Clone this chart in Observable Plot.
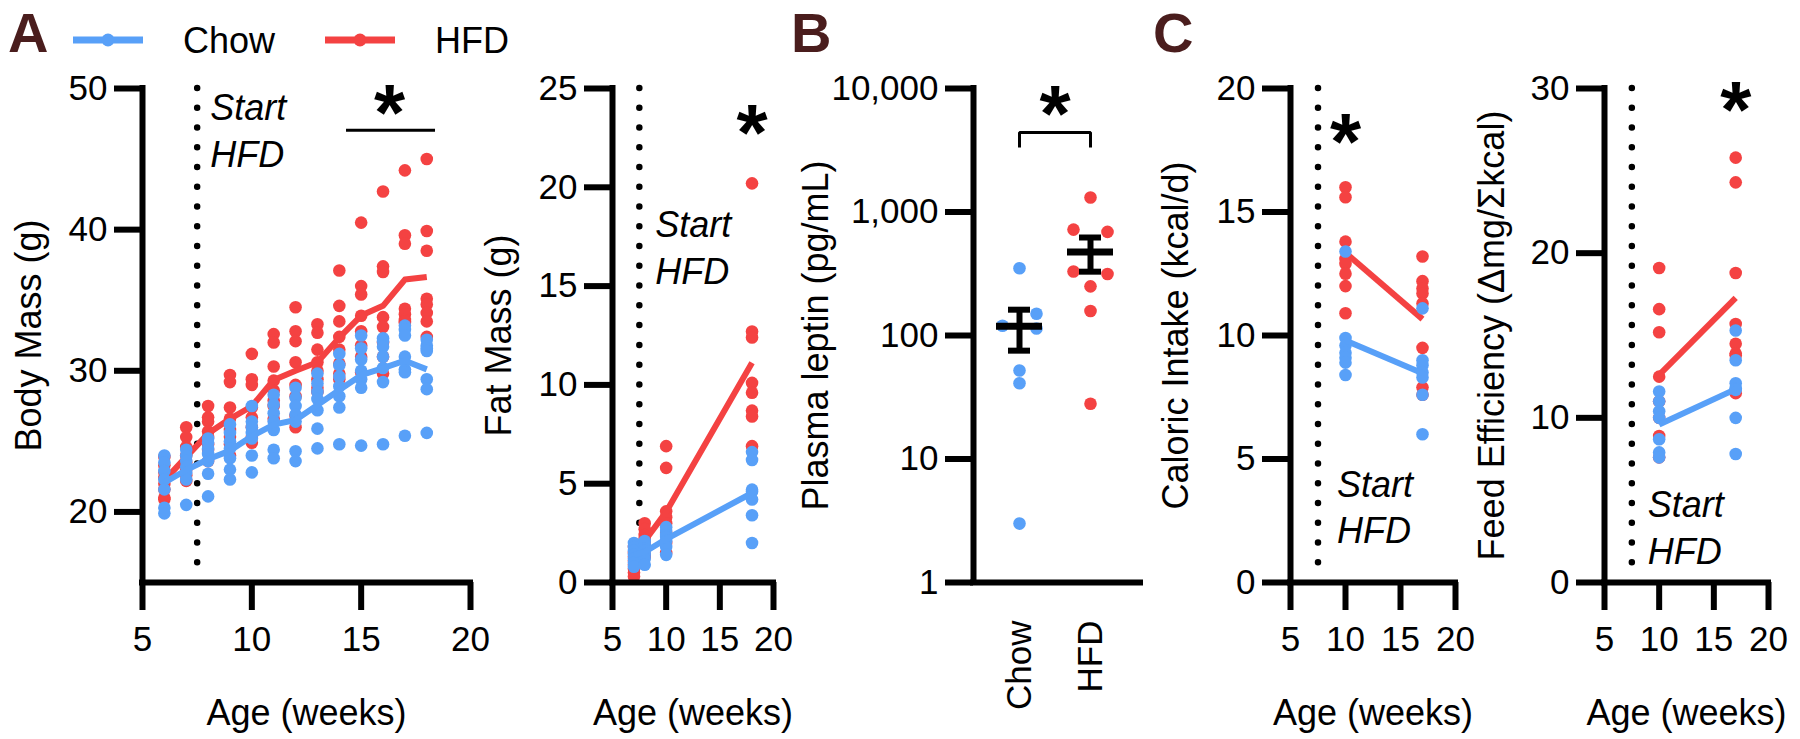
<!DOCTYPE html>
<html>
<head>
<meta charset="utf-8">
<script src="https://cdn.jsdelivr.net/npm/d3@7"></script>
<script src="https://cdn.jsdelivr.net/npm/@observablehq/plot@0.6"></script>
<style>
  body { margin: 0; background: #fff; }
  #fig { position: relative; width: 1800px; height: 739px; overflow: hidden; background: #fff; }
  #fig svg { position: absolute; top: 0; }
</style>
</head>
<body>
<div id="fig"></div>
<script>
// ---------------- DATA ----------------
const groups = ["Chow", "HFD"];
const xTicks = [5, 10, 15, 20];
const startWeek = 7.5;

// Panel A – body mass (g), one array per week
const bodyWeeks = [6, 7, 8, 9, 10, 11, 12, 13, 14, 15, 16, 17, 18];
const bodyChow = [
  [24.0, 23.5, 22.9, 22.3, 21.6, 20.3, 19.9],
  [24.4, 24.0, 23.6, 23.2, 22.8, 22.3, 20.5],
  [25.2, 24.9, 24.5, 24.1, 23.6, 22.7, 21.1],
  [26.2, 25.6, 25.0, 24.5, 23.8, 23.0, 22.3],
  [27.5, 26.4, 26.0, 25.6, 25.2, 24.0, 22.8],
  [28.3, 27.6, 27.0, 26.4, 25.8, 24.4, 23.8],
  [28.8, 28.1, 27.5, 26.9, 26.4, 24.3, 23.6],
  [29.8, 29.1, 28.5, 28.0, 27.2, 25.9, 24.5],
  [31.2, 30.4, 29.6, 28.9, 28.2, 27.4, 24.8],
  [32.5, 31.6, 30.8, 30.0, 29.4, 28.8, 24.7],
  [32.3, 32.1, 31.7, 31.0, 30.2, 29.2, 24.8],
  [33.2, 32.9, 32.5, 31.0, 30.1, 29.9, 25.4],
  [32.2, 31.8, 31.6, 31.4, 29.4, 28.7, 25.6]
];
const bodyHFD = [
  [23.9, 23.3, 22.8, 22.4, 22.0, 21.6, 21.0, 20.9],
  [26.0, 25.3, 24.6, 24.0, 23.5, 23.0, 22.6, 22.2],
  [27.5, 26.7, 26.4, 25.7, 25.3, 24.8, 24.4, 23.6],
  [29.7, 29.2, 27.4, 26.6, 25.8, 25.3, 24.8, 24.0],
  [31.2, 29.4, 29.0, 27.4, 26.7, 26.0, 25.3, 24.9],
  [32.6, 32.0, 30.3, 29.3, 28.6, 27.9, 27.5, 26.6],
  [34.5, 32.8, 32.1, 30.6, 29.0, 28.2, 26.8, 26.0],
  [33.3, 32.7, 31.5, 30.6, 30.0, 29.4, 28.8, 28.5],
  [37.1, 34.6, 33.5, 32.4, 31.5, 30.5, 29.8, 29.4],
  [40.5, 36.0, 35.4, 33.9, 32.8, 31.8, 31.0, 29.9],
  [42.7, 37.4, 37.0, 33.8, 33.1, 32.0, 31.0, 29.8],
  [44.2, 39.6, 39.0, 34.4, 34.0, 33.6, 33.4, 33.5],
  [45.0, 39.9, 38.5, 35.1, 34.7, 34.1, 33.5, 32.4]
];

// Panel A – fat mass (g)
const fatWeeks = [7, 8, 10, 18];
const fatChow = [
  [2.0, 1.8, 1.6, 1.4, 1.2, 1.0, 0.8],
  [2.1, 1.9, 1.7, 1.6, 1.4, 1.2, 0.9],
  [2.8, 2.6, 2.4, 2.3, 2.1, 1.8, 1.4],
  [6.6, 6.2, 4.7, 4.6, 4.2, 3.4, 2.0]
];
const fatHFD = [
  [1.8, 1.5, 1.3, 1.1, 0.9, 0.7, 0.5, 0.3],
  [3.0, 2.7, 2.4, 2.2, 2.0, 1.8, 1.4, 1.3],
  [6.9, 5.8, 3.6, 3.3, 3.0, 2.5, 2.0, 1.5],
  [20.2, 12.7, 12.4, 10.1, 9.6, 8.7, 8.4, 6.9]
];

// Panel B – plasma leptin (pg/mL)
const leptinChow = [350, 150, 120, 114, 52, 41, 3];
const leptinHFD = [1310, 720, 690, 330, 315, 250, 158, 28];

// Panel C – caloric intake (kcal/d) and feed efficiency
const cWeeks = [10, 17];
const calChow = [[13.4, 9.9, 9.6, 9.3, 9.1, 8.9, 8.4], [11.1, 9.0, 8.8, 8.5, 8.3, 7.6, 6.0]];
const calHFD = [[16.0, 15.6, 13.8, 13.1, 12.9, 12.5, 12.0, 10.9], [13.2, 12.2, 11.9, 11.7, 11.3, 9.5, 7.9, 7.6]];
const feChow = [[11.6, 11.0, 10.4, 10.0, 8.7, 7.9, 7.6], [15.3, 13.5, 12.1, 11.8, 11.7, 10.0, 7.8]];
const feHFD = [[19.1, 16.6, 15.2, 12.5, 11.0, 10.0, 8.9, 7.6], [25.8, 24.3, 18.8, 15.7, 14.5, 13.9, 13.8, 11.5]];

// Annotations (data coordinates)
const bodySig = {x1: 14.33, x2: 18.4, y: 47.04, star: {x: 16.3, y: 49.15}};
const leptinBracket = [{x: 0, y: 3330}, {x: 0, y: 4400}, {x: 1, y: 4400}, {x: 1, y: 3330}];
const leptinStar = {x: 0.5, y: 7850};

// ---------------- STYLE / LAYOUT ----------------
const FONT = '"Liberation Sans", Arial, Helvetica, sans-serif';
const H = 739, TOP = 88, BOTTOM = 157;
const COLORS = {Chow: "#58a0f8", HFD: "#f44242"};
const AXW = 6, TICK = 28, TICKFS = 35, TITLEFS = 36, DOTR = 6.3, LINEW = 6;
const STARFS = 80;
const fig = document.getElementById("fig");

function place(svg, left) {
  svg.style.left = left + "px";
  fig.appendChild(svg);
}

function means(weeks, arr) {
  return weeks.map((w, i) => ({week: w, value: d3.mean(arr[i])}));
}
function points(weeks, arr) {
  return arr.flatMap((vals, i) => vals.map(v => ({week: weeks[i], value: v})));
}
function starMark(d) {
  return Plot.text([d], {x: "x", y: "y", text: () => "*", fontSize: STARFS, fontWeight: "bold", textAnchor: "middle",
                         lineAnchor: "middle", dy: 0.17 * STARFS});
}
function yTitle(label, dx) {
  return Plot.text([label], {frameAnchor: "left", rotate: -90, dx, textAnchor: "middle",
                             lineAnchor: "bottom", fontSize: TITLEFS});
}

function timePanel(cfg) {
  const {left, width, marginLeft, marginRight, yDomain, yTicks, weeks, chow, hfd,
         yLabel, titleDx, start, star, sigBar} = cfg;
  const [y0, y1] = yDomain;
  const series = {HFD: hfd, Chow: chow};
  const marks = [
    Plot.ruleX([startWeek], {y1: y1, y2: y0, strokeWidth: 6.5, strokeDasharray: "0,19.76", strokeLinecap: "round"})
  ];
  for (const g of ["HFD", "Chow"]) {
    marks.push(Plot.dot(points(weeks, series[g]), {x: "week", y: "value", r: DOTR, fill: COLORS[g]}));
    marks.push(Plot.line(means(weeks, series[g]), {x: "week", y: "value", stroke: COLORS[g], strokeWidth: LINEW, strokeLinecap: "butt"}));
  }
  marks.push(
    Plot.ruleX([5], {y1: y0, y2: y1, strokeWidth: AXW, strokeLinecap: "square"}),
    Plot.ruleY([y0], {x1: 5, x2: 20, strokeWidth: AXW, strokeLinecap: "square"}),
    Plot.axisY({ticks: yTicks, tickSize: TICK, tickPadding: 7, strokeWidth: AXW, fontSize: TICKFS, label: null}),
    Plot.axisX({ticks: xTicks, tickSize: TICK, tickPadding: 16, strokeWidth: AXW, fontSize: TICKFS, label: null}),
    Plot.text(["Age (weeks)"], {frameAnchor: "bottom", dy: 142, textAnchor: "middle", lineAnchor: "bottom", fontSize: TITLEFS}),
    yTitle(yLabel, titleDx),
    Plot.text([start], {x: "x", y: "y", text: () => "Start\nHFD", textAnchor: "start", lineAnchor: "bottom",
                        lineHeight: 1.3, dx: start.dx, fontStyle: "italic", fontSize: TITLEFS}),
    starMark(star)
  );
  if (sigBar) marks.push(Plot.ruleY([sigBar], {x1: "x1", x2: "x2", y: "y", strokeWidth: 3}));
  const svg = Plot.plot({
    width, height: H, marginTop: TOP, marginBottom: BOTTOM, marginLeft, marginRight,
    x: {domain: [5, 20]},
    y: {domain: yDomain},
    style: {fontFamily: FONT, fontSize: TICKFS + "px", background: "transparent", overflow: "visible", color: "#000", maxWidth: "none"},
    marks
  });
  place(svg, left);
}

// A – body mass
timePanel({
  left: 0, width: 500, marginLeft: 142, marginRight: 30,
  yDomain: [15, 50], yTicks: [20, 30, 40, 50],
  weeks: bodyWeeks, chow: bodyChow, hfd: bodyHFD,
  yLabel: "Body Mass (g)", titleDx: -102,
  start: {x: startWeek, y: 44.44, dx: 13},
  star: bodySig.star, sigBar: bodySig
});
// A – fat mass
timePanel({
  left: 500, width: 300, marginLeft: 112, marginRight: 27,
  yDomain: [0, 25], yTicks: [0, 5, 10, 15, 20, 25],
  weeks: fatWeeks, chow: fatChow, hfd: fatHFD,
  yLabel: "Fat Mass (g)", titleDx: -102,
  start: {x: startWeek, y: 15.13, dx: 16},
  star: {x: 18, y: 23.38}
});
// C – caloric intake
timePanel({
  left: 1150, width: 340, marginLeft: 140, marginRight: 35,
  yDomain: [0, 20], yTicks: [0, 5, 10, 15, 20],
  weeks: cWeeks, chow: calChow, hfd: calHFD,
  yLabel: "Caloric Intake (kcal/d)", titleDx: -103,
  start: {x: startWeek, y: 1.58, dx: 19},
  star: {x: 10, y: 18.34}
});
// C – feed efficiency
timePanel({
  left: 1460, width: 340, marginLeft: 144, marginRight: 32,
  yDomain: [0, 30], yTicks: [0, 10, 20, 30],
  weeks: cWeeks, chow: feChow, hfd: feHFD,
  yLabel: "Feed Efficiency (\u0394mg/\u03A3kcal)", titleDx: -101,
  start: {x: startWeek, y: 1.15, dx: 16},
  star: {x: 17, y: 29.45}
});

// B – leptin scatter with mean ± SEM
(function () {
  const left = 800, width = 380, marginLeft = 173, marginRight = 40;
  const STEP = 71; // px between group centres
  const xDom = [-46 / STEP, (width - marginLeft - marginRight - 46) / STEP];
  const yB = d3.scaleLog([1, 1e4], [H - BOTTOM, TOP]);
  const leptin = {Chow: leptinChow, HFD: leptinHFD};
  const stats = groups.map((g, i) => {
    const v = leptin[g], m = d3.mean(v), se = d3.deviation(v) / Math.sqrt(v.length);
    return {i, mean: m, lo: m - se, hi: m + se};
  });
  // simple beeswarm: spread points that would overlap each other or the error bar
  function dodge(values, i) {
    const st = stats[i], placed = [], step = 17;
    const barTop = yB(st.hi) - DOTR - 3, barBot = yB(st.lo) + DOTR + 3;
    return [...values].sort((a, b) => a - b).map(v => {
      const py = yB(v);
      for (const k of [0, 1, -1, 2, -2, 3, -3]) {
        const px = k * step;
        const hitBar = k === 0 && py > barTop && py < barBot;
        const hitPt = placed.some(p => Math.hypot(p.px - px, p.py - py) < 2 * DOTR);
        if (!hitBar && !hitPt) { placed.push({px, py}); return {value: v, x: i + px / STEP}; }
      }
      return {value: v, x: i};
    });
  }
  const marks = [];
  groups.forEach((g, i) => marks.push(Plot.dot(dodge(leptin[g], i), {x: "x", y: "value", r: DOTR, fill: COLORS[g]})));
  marks.push(
    Plot.ruleX(stats, {x: "i", y1: "lo", y2: "hi", strokeWidth: 6}),
    Plot.ruleY(stats, {y: "mean", x1: d => d.i - 23 / STEP, x2: d => d.i + 23 / STEP, strokeWidth: 7}),
    Plot.ruleY(stats, {y: "lo", x1: d => d.i - 11 / STEP, x2: d => d.i + 11 / STEP, strokeWidth: 6}),
    Plot.ruleY(stats, {y: "hi", x1: d => d.i - 11 / STEP, x2: d => d.i + 11 / STEP, strokeWidth: 6}),
    Plot.ruleX([xDom[0]], {y1: 1, y2: 1e4, strokeWidth: AXW, strokeLinecap: "square"}),
    Plot.ruleY([1], {x1: xDom[0], x2: xDom[1], strokeWidth: AXW, strokeLinecap: "square"}),
    Plot.axisY({ticks: [1, 10, 100, 1000, 10000], tickFormat: d3.format(","), tickSize: TICK, tickPadding: 7, strokeWidth: AXW, fontSize: TICKFS, label: null}),
    Plot.text(groups, {x: (d, i) => i, frameAnchor: "bottom", rotate: -90, textAnchor: "end", lineAnchor: "middle", dy: 38, fontSize: TICKFS}),
    yTitle("Plasma leptin (pg/mL)", -146),
    Plot.line(leptinBracket, {x: "x", y: "y", strokeWidth: 3, strokeLinejoin: "miter", strokeLinecap: "butt"}),
    starMark(leptinStar)
  );
  const svg = Plot.plot({
    width, height: H, marginTop: TOP, marginBottom: BOTTOM, marginLeft, marginRight,
    x: {domain: xDom, axis: null},
    y: {type: "log", domain: [1, 1e4]},
    style: {fontFamily: FONT, fontSize: TICKFS + "px", background: "transparent", overflow: "visible", color: "#000", maxWidth: "none"},
    marks
  });
  place(svg, left);
})();

// Legend and panel letters
(function () {
  const svg = d3.select(fig).append("svg").attr("width", 1800).attr("height", 80)
    .style("left", "0px").style("font-family", FONT);
  const items = [{g: "Chow", x: 73}, {g: "HFD", x: 325}];
  items.forEach(it => {
    svg.append("line").attr("x1", it.x).attr("x2", it.x + 70).attr("y1", 40).attr("y2", 40)
      .attr("stroke", COLORS[it.g]).attr("stroke-width", 7);
    svg.append("circle").attr("cx", it.x + 35).attr("cy", 40).attr("r", 6.5).attr("fill", COLORS[it.g]);
    svg.append("text").attr("x", it.x + 110).attr("y", 53).attr("font-size", TITLEFS).text(it.g);
  });
  [{t: "A", x: 8}, {t: "B", x: 791}, {t: "C", x: 1153}].forEach(l => {
    svg.append("text").attr("x", l.x).attr("y", 52).attr("font-size", 56).attr("font-weight", "bold")
      .attr("fill", "#4a1d1d").text(l.t);
  });
})();
</script>
</body>
</html>
